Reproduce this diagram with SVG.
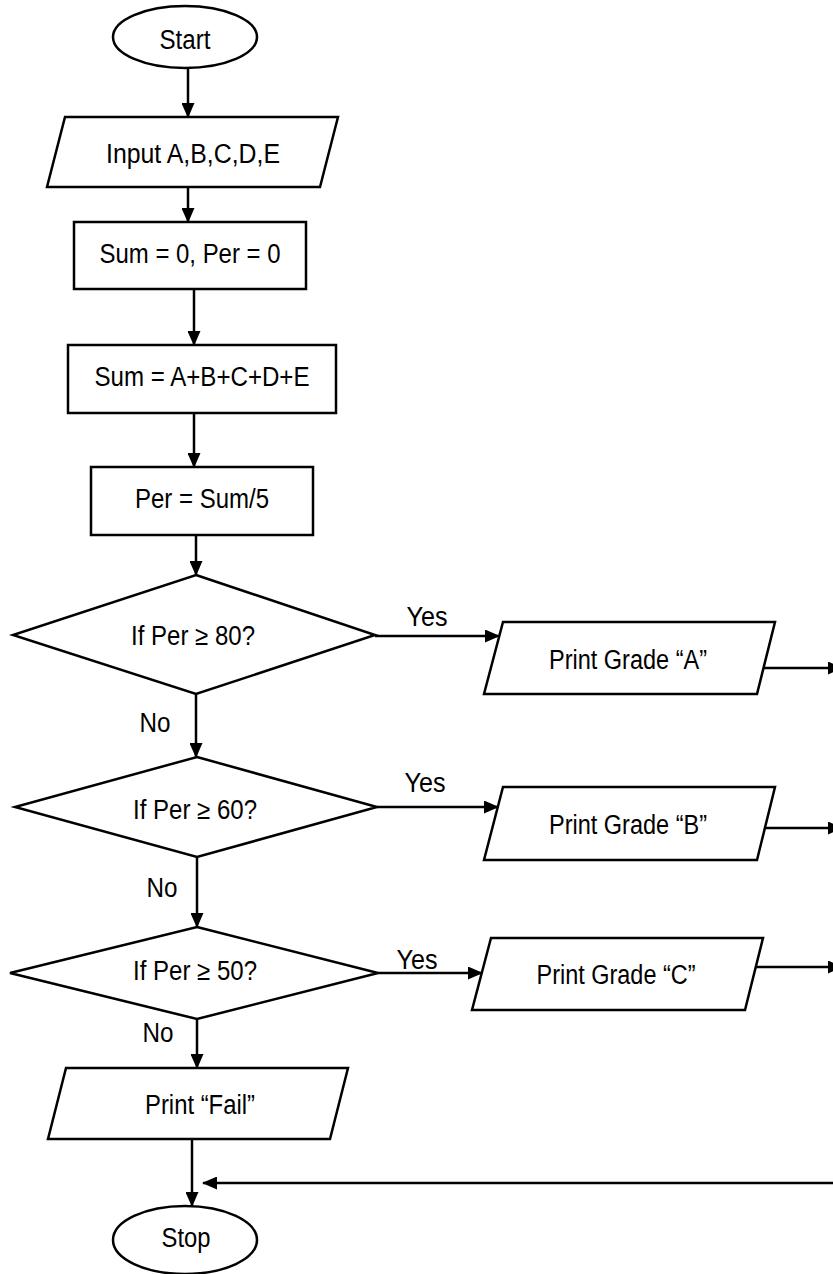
<svg xmlns="http://www.w3.org/2000/svg" width="833" height="1274" viewBox="0 0 833 1274">
<style>
.s{fill:#fff;stroke:#000;stroke-width:2.5;stroke-linejoin:miter}
.t{font-family:"Liberation Sans",Arial,sans-serif;font-size:27px;fill:#000;text-anchor:middle}
.c{fill:none;stroke:#000;stroke-width:2.5}
</style>
<defs>
<marker id="ah" markerUnits="userSpaceOnUse" markerWidth="15" markerHeight="13" refX="14" refY="6.5" orient="auto" viewBox="0 0 15 13">
<path d="M0,0 L15,6.5 L0,13 Z" fill="#000"/>
</marker>
</defs>
<rect width="833" height="1274" fill="#fff"/>
<g id="connectors">
<path class="c" d="M188,68 V117" marker-end="url(#ah)"/>
<path class="c" d="M188,187 V222" marker-end="url(#ah)"/>
<path class="c" d="M194,289 V345" marker-end="url(#ah)"/>
<path class="c" d="M194,413 V467" marker-end="url(#ah)"/>
<path class="c" d="M196,535 V575" marker-end="url(#ah)"/>
<path class="c" d="M375,636 H499" stroke-width="3" marker-end="url(#ah)"/>
<path class="c" d="M764,668 H842" marker-end="url(#ah)"/>
<path class="c" d="M196,694 V757" marker-end="url(#ah)"/>
<path class="c" d="M377,807 H498" stroke-width="3" marker-end="url(#ah)"/>
<path class="c" d="M765,828 H842" marker-end="url(#ah)"/>
<path class="c" d="M197,857 V927" marker-end="url(#ah)"/>
<path class="c" d="M378,973 H482" stroke-width="3" marker-end="url(#ah)"/>
<path class="c" d="M756,967 H842" marker-end="url(#ah)"/>
<path class="c" d="M197,1019 V1068" marker-end="url(#ah)"/>
<path class="c" d="M192,1139 V1206" marker-end="url(#ah)"/>
<path class="c" d="M840,1183 H203" marker-end="url(#ah)"/>
<text class="t" x="427" y="626" textLength="41" lengthAdjust="spacingAndGlyphs">Yes</text>
<text class="t" x="155" y="732" textLength="31" lengthAdjust="spacingAndGlyphs">No</text>
<text class="t" x="425" y="792" textLength="41" lengthAdjust="spacingAndGlyphs">Yes</text>
<text class="t" x="162" y="897" textLength="31" lengthAdjust="spacingAndGlyphs">No</text>
<text class="t" x="417" y="969" textLength="41" lengthAdjust="spacingAndGlyphs">Yes</text>
<text class="t" x="158" y="1042" textLength="31" lengthAdjust="spacingAndGlyphs">No</text>
</g>
<g id="start">
<ellipse class="s" cx="185" cy="37" rx="72" ry="31"/>
<text class="t" x="185" y="49" textLength="51" lengthAdjust="spacingAndGlyphs">Start</text>
</g>
<g id="input">
<polygon class="s" points="65,117 338,117 320,187 47,187"/>
<text class="t" x="193" y="163" textLength="174" lengthAdjust="spacingAndGlyphs">Input A,B,C,D,E</text>
</g>
<g id="init">
<rect class="s" x="74" y="222" width="232" height="67"/>
<text class="t" x="190" y="263" textLength="181" lengthAdjust="spacingAndGlyphs">Sum = 0, Per = 0</text>
</g>
<g id="sum">
<rect class="s" x="68" y="345" width="268" height="68"/>
<text class="t" x="202" y="386" textLength="215" lengthAdjust="spacingAndGlyphs">Sum = A+B+C+D+E</text>
</g>
<g id="per">
<rect class="s" x="91" y="467" width="222" height="68"/>
<text class="t" x="202" y="508" textLength="134" lengthAdjust="spacingAndGlyphs">Per = Sum/5</text>
</g>
<g id="dec80">
<polygon class="s" points="196,575 375,635 196,694 13,635"/>
<text class="t" x="193" y="645" textLength="124" lengthAdjust="spacingAndGlyphs">If Per ≥ 80?</text>
</g>
<g id="gradeA">
<polygon class="s" points="503,622 775,622 757,694 484,694"/>
<text class="t" x="628" y="669" textLength="158" lengthAdjust="spacingAndGlyphs">Print Grade “A”</text>
</g>
<g id="dec60">
<polygon class="s" points="197,757 377,807 197,857 15,807"/>
<text class="t" x="195" y="819" textLength="124" lengthAdjust="spacingAndGlyphs">If Per ≥ 60?</text>
</g>
<g id="gradeB">
<polygon class="s" points="503,787 775,787 757,860 484,860"/>
<text class="t" x="628" y="834" textLength="158" lengthAdjust="spacingAndGlyphs">Print Grade “B”</text>
</g>
<g id="dec50">
<polygon class="s" points="197,927 378,973 197,1019 10,973"/>
<text class="t" x="195" y="980" textLength="124" lengthAdjust="spacingAndGlyphs">If Per ≥ 50?</text>
</g>
<g id="gradeC">
<polygon class="s" points="491,938 763,938 745,1010 472,1010"/>
<text class="t" x="616" y="984" textLength="159" lengthAdjust="spacingAndGlyphs">Print Grade “C”</text>
</g>
<g id="fail">
<polygon class="s" points="66,1068 348,1068 330,1139 48,1139"/>
<text class="t" x="200" y="1114" textLength="110" lengthAdjust="spacingAndGlyphs">Print “Fail”</text>
</g>
<g id="stop">
<ellipse class="s" cx="185" cy="1240" rx="72" ry="34"/>
<text class="t" x="186" y="1247" textLength="49" lengthAdjust="spacingAndGlyphs">Stop</text>
</g>
</svg>
